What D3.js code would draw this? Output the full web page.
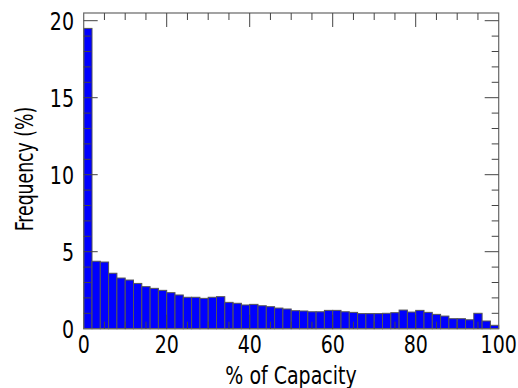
<!DOCTYPE html>
<html><head><meta charset="utf-8">
<script src="https://cdn.jsdelivr.net/npm/d3@7"></script>
<style>body{margin:0;background:#fff}svg{display:block}text{font-family:"DejaVu Sans Condensed","DejaVu Sans",sans-serif;}</style>
</head><body>
<script>
const binStarts = d3.range(0, 100, 2);
const frequency = [19.5,4.38,4.33,3.6,3.29,3.16,2.94,2.73,2.62,2.49,2.34,2.19,2.04,2.04,1.97,2.04,2.08,1.71,1.65,1.54,1.58,1.49,1.43,1.34,1.28,1.17,1.15,1.10,1.10,1.19,1.19,1.10,1.06,0.98,0.98,0.98,1.0,1.04,1.21,1.08,1.19,1.06,0.93,0.82,0.65,0.65,0.58,1.0,0.5,0.22];
const xTicks = [0,20,40,60,80,100];
const yTicks = [0,5,10,15,20];
const xLabel = "% of Capacity";
const yLabel = "Frequency (%)";

const W=518,H=388;
const m={l:83.7,r:498.7,t:13,b:328.7};
const svg=d3.select("body").append("svg").attr("width",W).attr("height",H);
const x=d3.scaleLinear().domain([0,100]).range([m.l,m.r]);
const y=d3.scaleLinear().domain([0,20.5]).range([m.b,m.t]);

svg.append("g").selectAll("rect").data(frequency).join("rect")
  .attr("x",(d,i)=>x(binStarts[i]))
  .attr("width",x(2)-x(0))
  .attr("y",d=>y(d))
  .attr("height",d=>y(0)-y(d))
  .attr("fill","#0000ff").attr("stroke","#555").attr("stroke-width",1);

const tc="#444";
const g=svg.append("g");
g.append("rect").attr("x",m.l).attr("y",m.t).attr("width",m.r-m.l).attr("height",m.b-m.t)
  .attr("fill","none").attr("stroke","#666").attr("stroke-width",1.2);
d3.range(0,101,5).forEach(v=>{
  const L = v%20===0?14:7;
  if(v>0 && v<100){
    g.append("line").attr("x1",x(v)).attr("x2",x(v)).attr("y1",m.b).attr("y2",m.b-L).attr("stroke",tc);
    g.append("line").attr("x1",x(v)).attr("x2",x(v)).attr("y1",m.t).attr("y2",m.t+L).attr("stroke",tc);
  }
});
d3.range(0,21,1).forEach(v=>{
  const L = v%5===0?14:7;
  if(v>0){
    g.append("line").attr("y1",y(v)).attr("y2",y(v)).attr("x1",m.l).attr("x2",m.l+L).attr("stroke",tc);
    g.append("line").attr("y1",y(v)).attr("y2",y(v)).attr("x1",m.r).attr("x2",m.r-L).attr("stroke",tc);
  }
});
const sx=0.88;
xTicks.forEach(v=>{
  svg.append("text").attr("transform",`translate(${x(v)},353) scale(${sx},1)`)
    .attr("text-anchor","middle").attr("font-size",24).text(v);
});
yTicks.forEach(v=>{
  svg.append("text").attr("transform",`translate(74,${y(v)+8.8}) scale(${sx},1)`)
    .attr("text-anchor","end").attr("font-size",24).text(v);
});
svg.append("text").attr("transform",`translate(291,384) scale(${sx},1)`)
  .attr("text-anchor","middle").attr("font-size",24).text(xLabel);
svg.append("text").attr("transform",`translate(33,169) rotate(-90) scale(0.8,1)`)
  .attr("text-anchor","middle").attr("font-size",24).text(yLabel);
</script>
</body></html>
